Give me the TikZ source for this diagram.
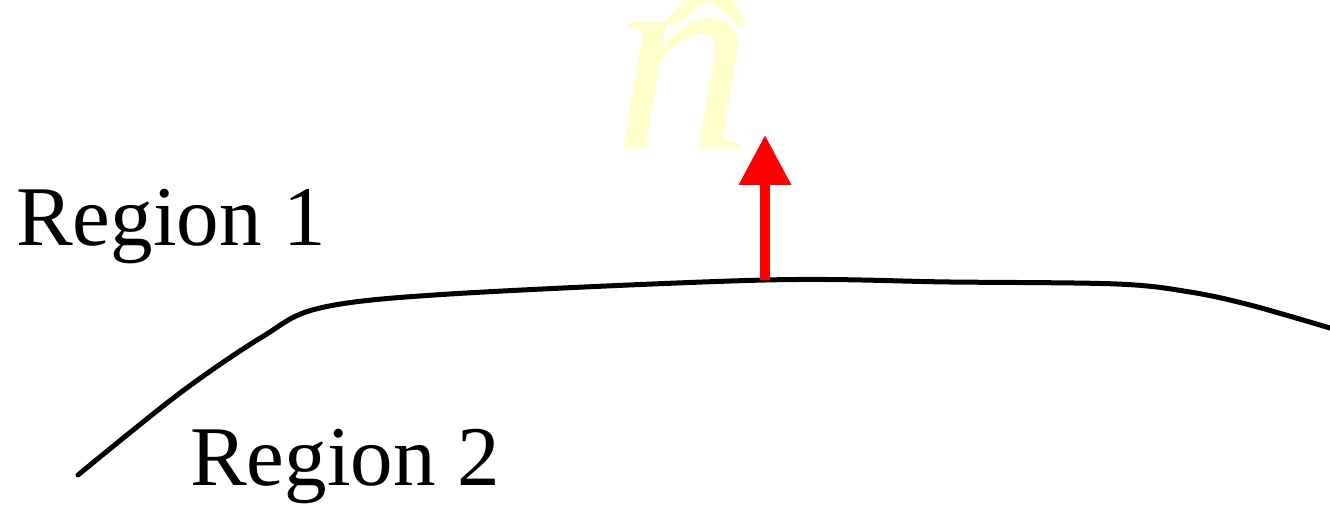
\documentclass[tikz,border=0pt]{standalone}
\usepackage{fontspec}
\setmainfont{Liberation Serif}
\usetikzlibrary{arrows.meta}
\definecolor{hatyellow}{HTML}{FFFFCC}
\definecolor{arrowred}{HTML}{FF0000}
\tikzset{
  label/.style={font=\fontsize{85}{85}\selectfont, inner sep=0pt},
  boundary/.style={line width=5pt, black, line cap=round},
  normal/.style={line width=10pt, arrowred, -{Triangle[width=50pt,length=50pt]}},
}
\begin{document}
\begin{tikzpicture}[x=1pt,y=-1pt]
\useasboundingbox (0,0) rectangle (1330,505);
\node[label, anchor=base west] (r1) at (16,245) {Region 1};
\node[label, anchor=base west] (r2) at (190,485) {Region 2};
\node[inner sep=0pt, anchor=base, text=hatyellow, scale=1.5] (nhat) at (683,150) {\fontsize{185}{185}\selectfont\itshape \makebox[0pt][l]{\hspace{0.10em}\raisebox{-0.10em}{ˆ}}n};
\coordinate (foot) at (765,280);
\coordinate (tip) at (765,135);
\draw[boundary] plot[smooth, tension=0.55] coordinates {(78,475) (180,393) (262,337) (320,308) (450,294) (765,280) (950,282) (1117,284) (1190,292) (1250,305) (1330,328)};
\draw[normal] (foot) -- (tip);
\end{tikzpicture}
\end{document}
